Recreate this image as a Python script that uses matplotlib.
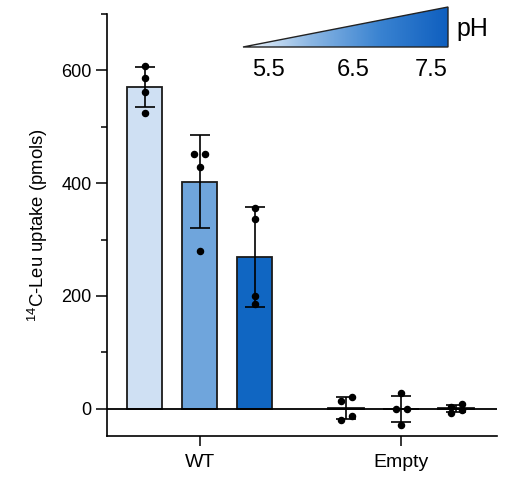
"""
Leucine uptake at three pH values, WT vs empty vector.
"""

import numpy as np
import matplotlib
matplotlib.use("Agg")
import matplotlib.pyplot as plt
from matplotlib.patches import Polygon
from matplotlib.ticker import MultipleLocator

plt.rcParams["font.family"] = ["Liberation Sans", "DejaVu Sans"]
plt.rcParams["mathtext.fontset"] = "custom"
plt.rcParams["mathtext.rm"] = "Liberation Sans"

groups = ["WT", "Empty"]
ph_values = ["5.5", "6.5", "7.5"]
bar_colors = ["#cfe0f3", "#6fa5dc", "#1066c2"]

# replicate measurements (pmols), one list per pH, per group
wt_reps = [
    [607, 586, 561, 525],
    [451, 451, 428, 280],
    [356, 336, 200, 185],
]
empty_reps = [
    [21, 14, -12, -19],
    [28, 0, 0, -28],
    [9, 3, -2, -7],
]


def swarm(vals, px_per_y, px_per_x, d=6.0, step=11.0):
    """Spread dots that would overlap into two side-by-side columns."""
    vals = list(vals)
    order = np.argsort(vals)[::-1]
    offs = np.zeros(len(vals))
    cluster = [order[0]]
    clusters = []
    for a, b in zip(order[:-1], order[1:]):
        if (vals[a] - vals[b]) * px_per_y < d:
            cluster.append(b)
        else:
            clusters.append(cluster)
            cluster = [b]
    clusters.append(cluster)
    for c in clusters:
        if len(c) > 1:
            for k, idx in enumerate(c):
                offs[idx] = (step / 2) * (-1 if k % 2 else 1)
    return offs / px_per_x


fig = plt.figure(figsize=(5.05, 4.79), dpi=100)
ax = fig.add_axes([0.212, 0.090, 0.772, 0.881])

ylo, yhi = -48, 700
xlo, xhi = -0.459, 1.476
ax.set_ylim(ylo, yhi)
ax.set_xlim(xlo, xhi)

px_per_y = 0.881 * 479 / (yhi - ylo)
px_per_x = 0.772 * 505 / (xhi - xlo)

offsets = [-0.273, 0.0, 0.273]
width = 0.174

for gi, reps in enumerate([wt_reps, empty_reps]):
    for i, r in enumerate(reps):
        r = np.array(r, dtype=float)
        m = r.mean()
        sd = r.std(ddof=1)
        x = gi + offsets[i]
        ax.bar(x, m, width=width, color=bar_colors[i], edgecolor="#1a1a1a",
               linewidth=1.3, zorder=2)
        ax.errorbar(x, m, yerr=sd, color="black", capsize=7, elinewidth=1.2,
                    capthick=1.2, zorder=4)
        jit = swarm(r, px_per_y, px_per_x)
        ax.plot(x + jit, r, "o", color="black", markersize=4.4, zorder=5)

ax.axhline(0, color="black", linewidth=1.3, zorder=3)

ax.spines["top"].set_visible(False)
ax.spines["right"].set_visible(False)
ax.spines["left"].set_linewidth(1.2)
ax.spines["bottom"].set_linewidth(1.2)

ax.set_yticks([0, 200, 400, 600])
ax.yaxis.set_minor_locator(MultipleLocator(100))
ax.tick_params(axis="y", which="major", length=8, width=1.1, labelsize=13, pad=3)
ax.tick_params(axis="y", which="minor", length=4.5, width=1.1)
ax.set_xticks([0, 1])
ax.set_xticklabels(groups)
ax.tick_params(axis="x", length=7, width=1.1, labelsize=14, pad=6)
ax.set_ylabel("$^{14}$C-Leu uptake (pmols)", fontsize=13.3, labelpad=8)

# pH gradient wedge
wx0, wx1 = 243 / 505, 448 / 505
wy0, wy1 = 1 - 47 / 479, 1 - 7 / 479
wax = fig.add_axes([wx0, wy0, wx1 - wx0, wy1 - wy0])
wax.set_xlim(0, 1)
wax.set_ylim(0, 1)
wax.axis("off")
grad = np.linspace(0, 1, 256).reshape(1, -1)
cmap = matplotlib.colors.LinearSegmentedColormap.from_list(
    "ph", ["#f2f7fc", "#8ab6e3", "#3a83d1", "#0f5fbf"])
im = wax.imshow(grad, extent=[0, 1, 0, 1], aspect="auto", cmap=cmap,
                origin="lower")
tri = Polygon([[0, 0], [1, 1], [1, 0]], closed=True, facecolor="none",
              edgecolor="#222222", linewidth=1.0, clip_on=False)
wax.add_patch(tri)
im.set_clip_path(tri)

for lab, xp in zip(ph_values, [268, 353, 431]):
    fig.text(xp / 505, 1 - 70 / 479, lab, fontsize=17, ha="center",
             va="center")
fig.text(472 / 505, 1 - 29 / 479, "pH", fontsize=18, ha="center", va="center")

fig.savefig("out.png", dpi=100)
